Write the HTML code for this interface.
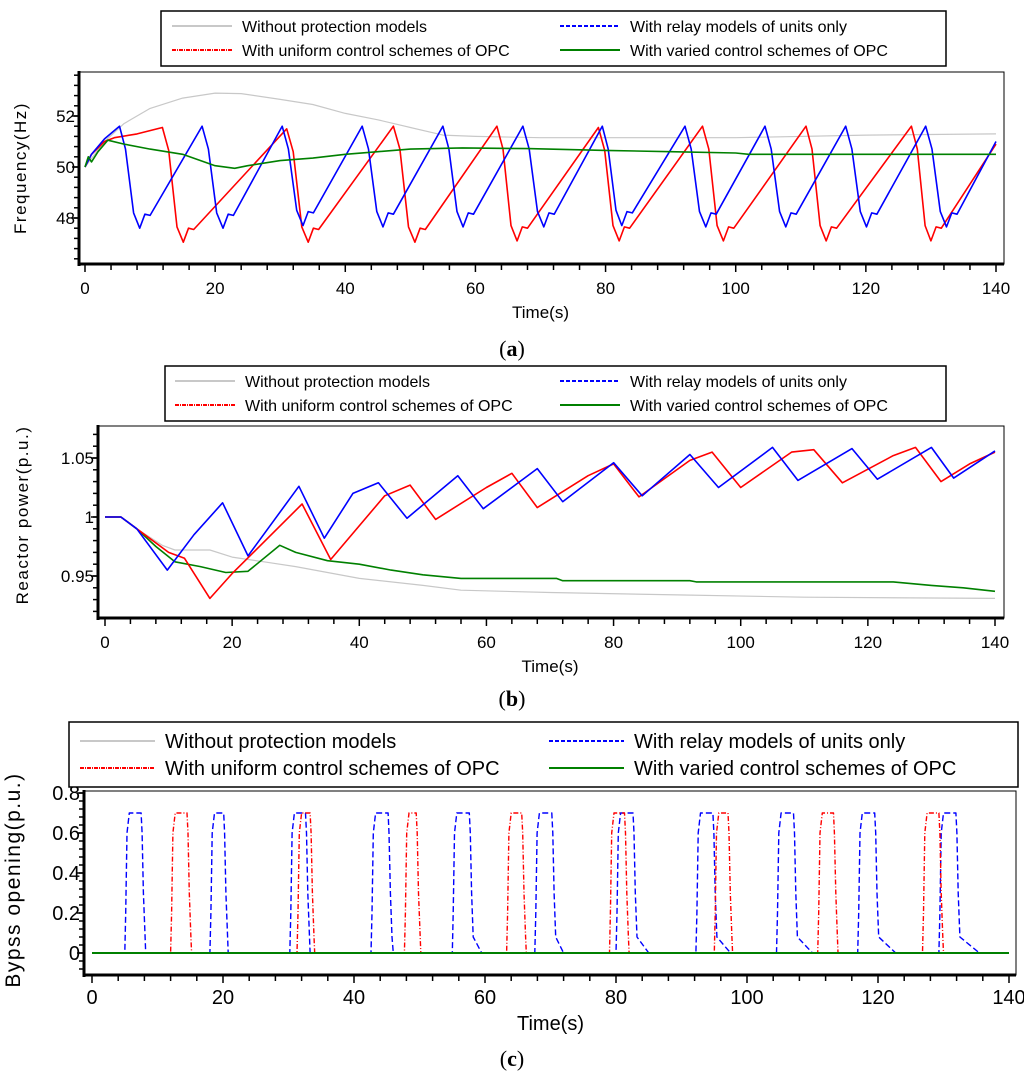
<!DOCTYPE html>
<html><head><meta charset="utf-8"><style>
body{margin:0;background:#fff}
svg{display:block}
text{font-family:"Liberation Sans",sans-serif;fill:#000}
.cap{font-family:"Liberation Serif",serif;font-size:22px}
</style></head><body>
<svg id="s" width="1024" height="1078" viewBox="0 0 1024 1078" xmlns="http://www.w3.org/2000/svg"></svg>
<script>
// ===== Panel (a) data: frequency (Hz) =====
const aGrayT=[0,3,6,10,15,20,24,30,35,40,45,50,55,60,70,80,100,120,140];
const aGrayV=[50,51,51.7,52.3,52.7,52.9,52.88,52.65,52.45,52.1,51.85,51.55,51.25,51.2,51.15,51.15,51.15,51.25,51.3];
const aGreenT=[0,0.5,1,2,3.5,6,10,15,20,23,25,30,35,40,45,50,58,68,80,90,100,102,140];
const aGreenV=[50,50.4,50.2,50.6,51.05,50.9,50.7,50.5,50.05,49.95,50.05,50.25,50.35,50.5,50.6,50.7,50.75,50.72,50.65,50.6,50.55,50.5,50.5];
const aBluePeakT=[5.3,18,30.3,42.6,55,67.3,79.5,92.2,104.5,116.9,129.2];
const aBluePeakV=[51.6,51.6,51.6,51.6,51.6,51.6,51.6,51.6,51.6,51.6,51.6];
const aBlueTroughT=[8.4,21.2,33.5,45.8,58.1,70.5,82.5,95.4,107.7,120.1,132.4];
const aBlueTroughV=[47.6,47.6,47.7,47.65,47.65,47.65,47.7,47.65,47.65,47.65,47.65];
const aRedPeakT=[11.9,31,47.4,63.3,78.9,94.9,110.8,127];
const aRedPeakV=[51.55,51.5,51.6,51.6,51.55,51.6,51.6,51.6];
const aRedTroughT=[15.1,34.3,50.7,66.4,82.1,98.1,113.9,130];
const aRedTroughV=[47.05,47.05,47.05,47.1,47.1,47.1,47.1,47.1];
const aEnd=[140,51.0,50.9];
// ===== Panel (b) data: reactor power (p.u.) =====
const bBlueT=[0,2.5,5,9.8,14,18.5,22.5,30.5,34.5,39,43,47.5,55.5,59.5,68,72,80,84.5,92,96.5,105,109,117.5,121.5,130,133.5,140];
const bBlueV=[1,1,0.99,0.955,0.985,1.012,0.967,1.026,0.982,1.02,1.029,0.999,1.035,1.007,1.041,1.013,1.046,1.018,1.053,1.025,1.059,1.031,1.058,1.032,1.059,1.033,1.056];
const bRedT=[0,2.5,5,10,12.5,16.5,20,31,35.5,44,48,52,60,64,68,76,80,84,92,95.5,100,108,111.5,116,124,127.5,131.5,136,140];
const bRedV=[1,1,0.99,0.97,0.965,0.931,0.952,1.011,0.964,1.018,1.027,0.998,1.025,1.037,1.008,1.035,1.045,1.017,1.048,1.055,1.025,1.055,1.057,1.029,1.052,1.059,1.03,1.045,1.055];
const bGrayT=[0,2.5,5,9,11,16.5,20,25,30,35,40,50,56,70,90,110,140];
const bGrayV=[1,1,0.99,0.976,0.972,0.972,0.966,0.962,0.958,0.953,0.948,0.942,0.938,0.936,0.934,0.932,0.931];
const bGreenT=[0,2.5,5,8,11,15,19,22.5,27.5,30,35,40,45,50,56,71,72,92,93,124,130,135,140];
const bGreenV=[1,1,0.99,0.975,0.962,0.958,0.953,0.954,0.976,0.97,0.963,0.96,0.955,0.951,0.948,0.948,0.946,0.946,0.945,0.945,0.942,0.94,0.937];
// ===== Panel (c) data: bypass opening pulses =====
const cBlueStart=[5.0,18,30.2,42.6,55,67.6,80,92.2,104.5,116.9,129.3];
const cBlueEnd=[8.2,20.8,33.3,46,59.5,72,85,97.5,110,122.7,135.5];
const cRedStart=[12,31.3,47.7,63.3,79,95,110.8,126.8];
const cRedEnd=[15.2,34,50.2,66.3,82,97.8,113.9,130];
const cTop=0.7;
// tick labels
const aYTicks=[48,50,52];
const bYTicks=[0.95,1,1.05];
const bYLabels=["0.95","1","1.05"];
const cYTicks=[0,0.2,0.4,0.6,0.8];
const xTicks=[0,20,40,60,80,100,120,140];

const NS="http://www.w3.org/2000/svg";
const S=document.getElementById('s');
function el(tag,attrs,parent){const e=document.createElementNS(NS,tag);for(const k in attrs)e.setAttribute(k,attrs[k]);(parent||S).appendChild(e);return e;}
function txt(str,attrs,parent){const e=el('text',attrs,parent);e.textContent=str;return e;}

function panel(cfg){
  const g=el('g',{});
  
  
  const X=t=>cfg.x0+(t-0)/140*(cfg.x1-cfg.x0);
  const Y=v=>cfg.yA+(v-cfg.vA)/(cfg.vB-cfg.vA)*(cfg.yB-cfg.yA);
  cfg.X=X;cfg.Y=Y;
  const fr=el('rect',{x:cfg.fx0,y:cfg.fy0,width:cfg.fx1-cfg.fx0,height:cfg.fy1-cfg.fy0,fill:'none',stroke:'#000','stroke-width':1},g);
  
  
  el('line',{x1:cfg.fx0,y1:cfg.fy0-1,x2:cfg.fx0,y2:cfg.fy1+2,stroke:'#000','stroke-width':3},g);
  el('line',{x1:cfg.fx0-1,y1:cfg.fy1,x2:cfg.fx1,y2:cfg.fy1,stroke:'#000','stroke-width':3},g);
  const xa=el('g',{},g);
  
  
  for(let t=0;t<=140;t+=4){el('line',{x1:X(t),y1:cfg.fy1,x2:X(t),y2:cfg.fy1+(t%20==0?8:6),stroke:'#000','stroke-width':1.5},xa);}
  xTicks.forEach(t=>{const l=txt(String(t),{x:X(t),y:cfg.xly,'font-size':cfg.fs,'text-anchor':'middle'},xa);
    
    });
  const xt=txt('Time(s)',{x:(cfg.x0+cfg.x1)/2,y:cfg.xty,'font-size':cfg.fs,'text-anchor':'middle'},g);
  
  
  const ya=el('g',{},g);
  
  
  for(let i=0;;i++){const v=cfg.minorStart+i*cfg.minor;const y=Y(v);if(y<cfg.fy0+2)break;if(y>cfg.fy1-2)continue;
    el('line',{x1:cfg.fx0,y1:y,x2:cfg.fx0-5,y2:y,stroke:'#000','stroke-width':1.5},ya);}
  cfg.yTicks.forEach((v,i)=>{el('line',{x1:cfg.fx0,y1:Y(v),x2:cfg.fx0-7,y2:Y(v),stroke:'#000','stroke-width':1.5},ya);
    const l=txt(cfg.yLabels?cfg.yLabels[i]:String(v),{x:cfg.fx0-4,y:Y(v)+cfg.fs*0.36,'font-size':cfg.fs,'text-anchor':'end'},ya);
    
    });
  const yt=txt(cfg.ytitle,{x:0,y:0,'font-size':cfg.yfs,'text-anchor':'middle','letter-spacing':'1.5',transform:`translate(${cfg.ytx},${cfg.yty}) rotate(-90)`},g);
  
  
  const lg=el('g',{},g);
  
  
  el('rect',{x:cfg.lx0,y:cfg.ly0,width:cfg.lx1-cfg.lx0,height:cfg.ly1-cfg.ly0,fill:'#fff',stroke:'#000','stroke-width':1.5},lg);
  const items=[['Without protection models','#c8c8c8','',0,0],['With relay models of units only','#0000ff','4 2',1,0],
    ['With uniform control schemes of OPC','#ff0000','4 1 1 1',0,1],['With varied control schemes of OPC','#008000','',1,1]];
  items.forEach(it=>{const ig=el('g',{},lg);
    
    
    const lx=it[3]?cfg.lc2:cfg.lc1, y=it[4]?cfg.lr2:cfg.lr1;
    el('line',{x1:lx,y1:y,x2:lx+cfg.lw,y2:y,stroke:it[1],'stroke-width':2,'stroke-dasharray':it[2]},ig);
    txt(it[0],{x:lx+cfg.lw+10,y:y+cfg.lfs*0.36,'font-size':cfg.lfs},ig);});
  const cp=txt('',{x:512,y:cfg.capy,'text-anchor':'middle',class:'cap'},g);
  cp.innerHTML='(<tspan font-weight="bold">'+cfg.cap+'</tspan>)';
  
  
  cfg.g=el('g',{},g);
  return cfg;
}
function line(cfg,T,V,color,name,w,dash){
  const d=T.map((t,i)=>(i?'L':'M')+cfg.X(t).toFixed(1)+','+cfg.Y(V[i]).toFixed(1)).join(' ');
  const p=el('path',{d:d,fill:'none',stroke:color,'stroke-width':w||1.5,'stroke-dasharray':dash||'','stroke-linejoin':'round'},cfg.g);
  
  
}
function saw(peakT,peakV,trT,trV,endV,firstT,firstV){
  const T=firstT.slice(),V=firstV.slice();
  peakT.forEach((pt,i)=>{T.push(pt);V.push(peakV[i]);
    const tt=trT[i],tv=trV[i];
    T.push(pt+(tt-pt)*0.3);V.push(peakV[i]-0.9);
    T.push(pt+(tt-pt)*0.7);V.push(tv+0.6);
    T.push(tt);V.push(tv);
    T.push(tt+0.8);V.push(tv+0.55);T.push(tt+1.6);V.push(tv+0.5);});
  T.push(aEnd[0]);V.push(endV);return [T,V];
}

const A=panel({name:'panel-a-frequency',x0:85,x1:996,yA:167,vA:50,yB:116,vB:52,fx0:79,fx1:1004,fy0:72,fy1:264,
  yTicks:aYTicks,minorStart:46.4,minor:0.4,xly:294,xty:318,fs:17,ytitle:'Frequency(Hz)',ytx:26,yty:168,yfs:17,
  lx0:161,lx1:946,ly0:11,ly1:66,lc1:172,lc2:560,lw:60,lr1:26,lr2:50,lfs:16,capy:356,cap:'a'});
line(A,aGrayT,aGrayV,'#c8c8c8','series-without-protection',1.2);
let r=saw(aRedPeakT,aRedPeakV,aRedTroughT,aRedTroughV,aEnd[2],[0,1,3,4.5,8],[50,50.5,51.0,51.15,51.3]);
line(A,r[0],r[1],'#ff0000','series-uniform-opc',1.6);
r=saw(aBluePeakT,aBluePeakV,aBlueTroughT,aBlueTroughV,aEnd[1],[0,1,3],[50,50.5,51.1]);
line(A,r[0],r[1],'#0000ff','series-relay-only',1.6);
line(A,aGreenT,aGreenV,'#008000','series-varied-opc',1.6);

const B=panel({name:'panel-b-reactor-power',x0:105,x1:995,yA:517,vA:1,yB:458,vB:1.05,fx0:98,fx1:1004,fy0:426,fy1:618,
  yTicks:bYTicks,yLabels:bYLabels,minorStart:0.91,minor:0.01,xly:648,xty:672,fs:17,ytitle:'Reactor power(p.u.)',ytx:28,yty:515,yfs:17,
  lx0:165,lx1:946,ly0:366,ly1:421,lc1:175,lc2:560,lw:60,lr1:381,lr2:405,lfs:16,capy:706,cap:'b'});
line(B,bGrayT,bGrayV,'#c8c8c8','series-without-protection',1.2);
line(B,bGreenT,bGreenV,'#008000','series-varied-opc',1.6);
line(B,bRedT,bRedV,'#ff0000','series-uniform-opc',1.6);
line(B,bBlueT,bBlueV,'#0000ff','series-relay-only',1.6);

const C=panel({name:'panel-c-bypass-opening',x0:92,x1:1009,yA:953,vA:0,yB:793,vB:0.8,fx0:84,fx1:1016,fy0:791,fy1:975,
  yTicks:cYTicks,minorStart:-0.12,minor:0.04,xly:1004,xty:1030,fs:20,ytitle:'Bypss opening(p.u.)',ytx:20,yty:880,yfs:21,
  lx0:69,lx1:1018,ly0:722,ly1:787,lc1:80,lc2:549,lw:75,lr1:741,lr2:768,lfs:20,capy:1066,cap:'c'});
function pulses(st,en){const T=[0],V=[0];
  st.forEach((s,i)=>{const e=en[i];
    const te=Math.min(s+2.6,e-0.7);
    T.push(s,s+0.15,s+0.35,s+0.7,te,te+0.15,te+0.35,te+0.6,e);
    V.push(0,0.2,0.6,cTop,cTop,0.6,0.3,0.08,0);});
  T.push(140);V.push(0);return [T,V];}
line(C,[0,140],[0,0],'#c8c8c8','series-without-protection',1.2);
r=pulses(cBlueStart,cBlueEnd);line(C,r[0],r[1],'#0000ff','series-relay-only',1.4,'6 3');
r=pulses(cRedStart,cRedEnd);line(C,r[0],r[1],'#ff0000','series-uniform-opc',1.4,'5 2 1 2');
line(C,[0,140],[0,0],'#008000','series-varied-opc',2);
</script>
</body></html>
